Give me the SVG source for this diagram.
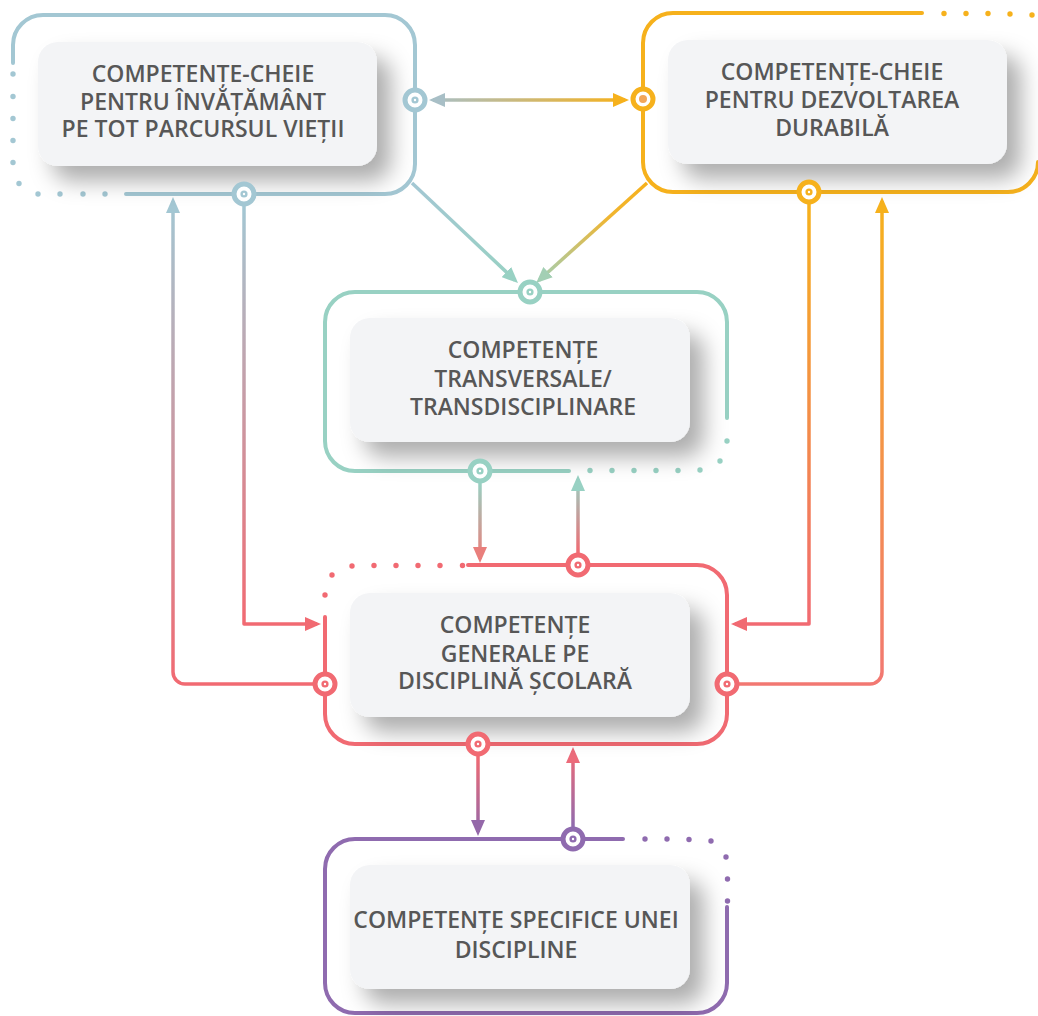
<svg xmlns="http://www.w3.org/2000/svg" width="1038" height="1016" viewBox="0 0 1038 1016">
<style>
.frame{fill:none;stroke-width:4;stroke-linecap:round;stroke-linejoin:round}
.card{fill:#f3f4f6}
.lbl{font-family:"Open Sans","Liberation Sans",sans-serif;font-weight:600;font-size:23px;fill:#575757;text-anchor:middle}
.conn{fill:none;stroke-width:3.5;stroke-linejoin:round}
.ring{fill:#fff;stroke-width:5}
.blue{stroke:#a3c7d3}.blue-f{fill:#a3c7d3}
.orange{stroke:#f6b11c}.orange-f{fill:#f6b11c}
.teal{stroke:#98d1c3}.teal-f{fill:#98d1c3}
.red{stroke:#f16a72}.red-f{fill:#f16a72}
.purple{stroke:#8f6baf}.purple-f{fill:#8f6baf}
</style>
<defs>
<filter id="sh" x="-20%" y="-30%" width="150%" height="180%">
<feDropShadow dx="14" dy="15" stdDeviation="11" flood-color="#000" flood-opacity="0.32"/>
</filter>
<marker id="aBlue" viewBox="0 0 16 14" refX="12" refY="7" markerWidth="16" markerHeight="14" markerUnits="userSpaceOnUse" orient="auto-start-reverse"><path d="M0,0 L16,7 L0,14 z" fill="#a8bfc6"/></marker>
<marker id="aOrange" viewBox="0 0 16 14" refX="12" refY="7" markerWidth="16" markerHeight="14" markerUnits="userSpaceOnUse" orient="auto-start-reverse"><path d="M0,0 L16,7 L0,14 z" fill="#f6b11c"/></marker>
<marker id="aTeal" viewBox="0 0 16 14" refX="12" refY="7" markerWidth="16" markerHeight="14" markerUnits="userSpaceOnUse" orient="auto"><path d="M0,0 L16,7 L0,14 z" fill="#98d1c3"/></marker>
<marker id="aTealG" viewBox="0 0 16 14" refX="12" refY="7" markerWidth="16" markerHeight="14" markerUnits="userSpaceOnUse" orient="auto"><path d="M0,0 L16,7 L0,14 z" fill="#a3cfb4"/></marker>
<marker id="aRed" viewBox="0 0 16 14" refX="12" refY="7" markerWidth="16" markerHeight="14" markerUnits="userSpaceOnUse" orient="auto"><path d="M0,0 L16,7 L0,14 z" fill="#f16a72"/></marker>
<marker id="aSalmon" viewBox="0 0 16 14" refX="12" refY="7" markerWidth="16" markerHeight="14" markerUnits="userSpaceOnUse" orient="auto"><path d="M0,0 L16,7 L0,14 z" fill="#e97f7c"/></marker>
<marker id="aPink" viewBox="0 0 16 14" refX="12" refY="7" markerWidth="16" markerHeight="14" markerUnits="userSpaceOnUse" orient="auto"><path d="M0,0 L16,7 L0,14 z" fill="#ec6b7a"/></marker>
<marker id="aPurple" viewBox="0 0 16 14" refX="12" refY="7" markerWidth="16" markerHeight="14" markerUnits="userSpaceOnUse" orient="auto"><path d="M0,0 L16,7 L0,14 z" fill="#9468a9"/></marker>
<marker id="aBlueUp" viewBox="0 0 16 14" refX="12" refY="7" markerWidth="16" markerHeight="14" markerUnits="userSpaceOnUse" orient="auto"><path d="M0,0 L16,7 L0,14 z" fill="#a3c7d3"/></marker>
<linearGradient id="gTop" gradientUnits="userSpaceOnUse" x1="433" y1="0" x2="625" y2="0"><stop offset="0" stop-color="#a8bfc6"/><stop offset="1" stop-color="#f6b11c"/></linearGradient>
<linearGradient id="gDiagL" gradientUnits="userSpaceOnUse" x1="412" y1="183" x2="515" y2="280"><stop offset="0" stop-color="#a3c7d3"/><stop offset="1" stop-color="#98d1c3"/></linearGradient>
<linearGradient id="gDiagR" gradientUnits="userSpaceOnUse" x1="647" y1="183" x2="539" y2="280"><stop offset="0" stop-color="#f6b11c"/><stop offset="0.35" stop-color="#f0b530"/><stop offset="1" stop-color="#a3cfb4"/></linearGradient>
<linearGradient id="gL1" gradientUnits="userSpaceOnUse" x1="0" y1="206" x2="0" y2="624"><stop offset="0" stop-color="#a3c7d3"/><stop offset="1" stop-color="#f16a72"/></linearGradient>
<linearGradient id="gL2" gradientUnits="userSpaceOnUse" x1="0" y1="684" x2="0" y2="201"><stop offset="0" stop-color="#f16a72"/><stop offset="1" stop-color="#a3c7d3"/></linearGradient>
<linearGradient id="gR1" gradientUnits="userSpaceOnUse" x1="0" y1="204" x2="0" y2="624"><stop offset="0" stop-color="#f6b11c"/><stop offset="1" stop-color="#f16a72"/></linearGradient>
<linearGradient id="gR2" gradientUnits="userSpaceOnUse" x1="0" y1="684" x2="0" y2="200"><stop offset="0" stop-color="#f27872"/><stop offset="1" stop-color="#f6b11c"/></linearGradient>
<linearGradient id="gM1" gradientUnits="userSpaceOnUse" x1="0" y1="483" x2="0" y2="559"><stop offset="0" stop-color="#98d1c3"/><stop offset="1" stop-color="#ec7d79"/></linearGradient>
<linearGradient id="gM2" gradientUnits="userSpaceOnUse" x1="0" y1="553" x2="0" y2="479"><stop offset="0" stop-color="#f16a72"/><stop offset="1" stop-color="#98d1c3"/></linearGradient>
<linearGradient id="gB1" gradientUnits="userSpaceOnUse" x1="0" y1="756" x2="0" y2="832"><stop offset="0" stop-color="#f16a72"/><stop offset="1" stop-color="#9468a9"/></linearGradient>
<linearGradient id="gB2" gradientUnits="userSpaceOnUse" x1="0" y1="827" x2="0" y2="751"><stop offset="0" stop-color="#8f6baf"/><stop offset="1" stop-color="#ef6a76"/></linearGradient>
</defs>
<rect width="1038" height="1016" fill="#fff"/>

<g id="connectors">
<path class="conn" stroke="url(#gTop)" d="M433 100 H625" marker-start="url(#aBlue)" marker-end="url(#aOrange)"/>
<path class="conn" stroke="url(#gDiagL)" d="M412 183 L515.1 280.3" marker-end="url(#aTeal)"/>
<path class="conn" stroke="url(#gDiagR)" d="M647 183 L539.1 280.2" marker-end="url(#aTealG)"/>
<path class="conn" stroke="url(#gL1)" d="M244 200 V624 H317" marker-end="url(#aRed)"/>
<path class="conn" stroke="url(#gL2)" d="M320 684 H185 A12 12 0 0 1 173 672 V201" marker-end="url(#aBlueUp)"/>
<path class="conn" stroke="url(#gR1)" d="M809 200 V624 H735" marker-end="url(#aRed)"/>
<path class="conn" stroke="url(#gR2)" d="M732 684 H870 A12 12 0 0 0 882 672 V201" marker-end="url(#aOrange)"/>
<path class="conn" stroke="url(#gM1)" d="M480 480 V559" marker-end="url(#aSalmon)"/>
<path class="conn" stroke="url(#gM2)" d="M578 556 V479" marker-end="url(#aTeal)"/>
<path class="conn" stroke="url(#gB1)" d="M478 752 V832" marker-end="url(#aPurple)"/>
<path class="conn" stroke="url(#gB2)" d="M573 830 V751" marker-end="url(#aPink)"/>
</g>

<g id="node-lifelong">
<path class="frame blue" d="M126 194 H385 A30 30 0 0 0 415 164 V45 A30 30 0 0 0 385 15 H43 A30 30 0 0 0 13 45 V63"/>
<g class="blue-f">
<circle cx="13" cy="74" r="2.7"/><circle cx="13" cy="96.5" r="2.7"/><circle cx="13" cy="118.5" r="2.7"/><circle cx="13" cy="140.5" r="2.7"/><circle cx="13" cy="162.5" r="2.7"/><circle cx="19" cy="183.5" r="2.7"/><circle cx="38" cy="194" r="2.7"/><circle cx="60" cy="194" r="2.7"/><circle cx="83" cy="194" r="2.7"/><circle cx="105" cy="194" r="2.7"/>
</g>
<rect class="card" x="38" y="42" width="339" height="124" rx="20" filter="url(#sh)"/>
<text class="lbl" x="203" y="82">COMPETENȚE-CHEIE<tspan x="203" dy="28">PENTRU ÎNVĂȚĂMÂNT</tspan><tspan x="203" dy="27">PE TOT PARCURSUL VIEȚII</tspan></text>
<circle class="ring blue" cx="415" cy="100" r="10"/><circle class="blue-f" cx="415" cy="100" r="3.6"/><circle fill="#fff" cx="415" cy="100" r="1.2"/>
<circle class="ring blue" cx="244" cy="194" r="10"/><circle class="blue-f" cx="244" cy="194" r="3.6"/><circle fill="#fff" cx="244" cy="194" r="1.2"/>
</g>

<g id="node-sustainable">
<path class="frame orange" d="M922 13 H673 A30 30 0 0 0 643 43 V162 A30 30 0 0 0 673 192 H1008 A30 30 0 0 0 1038 162"/>
<g class="orange-f">
<circle cx="944" cy="13.5" r="2.7"/><circle cx="966" cy="13.5" r="2.7"/><circle cx="988" cy="13.5" r="2.7"/><circle cx="1010" cy="14" r="2.7"/><circle cx="1032" cy="15" r="2.7"/>
</g>
<rect class="card" x="668" y="40" width="339" height="124" rx="20" filter="url(#sh)"/>
<text class="lbl" x="832" y="80">COMPETENȚE-CHEIE<tspan x="832" dy="28">PENTRU DEZVOLTAREA</tspan><tspan x="832" dy="28">DURABILĂ</tspan></text>
<circle class="ring orange" cx="643" cy="99" r="10"/><circle fill="#f2a65a" cx="643" cy="99" r="4"/>
<circle class="ring orange" cx="809" cy="192" r="10"/><circle class="orange-f" cx="809" cy="192" r="3.6"/><circle fill="#fff" cx="809" cy="192" r="1.2"/>
</g>

<g id="node-transversal">
<path class="frame teal" d="M569 471 H355 A30 30 0 0 1 325 441 V322 A30 30 0 0 1 355 292 H697 A30 30 0 0 1 727 322 V418"/>
<g class="teal-f">
<circle cx="727" cy="441" r="2.7"/><circle cx="720" cy="461" r="2.7"/><circle cx="700" cy="470" r="2.7"/><circle cx="678" cy="470.5" r="2.7"/><circle cx="656" cy="470.5" r="2.7"/><circle cx="634" cy="470.5" r="2.7"/><circle cx="612" cy="470.5" r="2.7"/><circle cx="590" cy="470.5" r="2.7"/>
</g>
<rect class="card" x="350" y="318" width="340" height="124" rx="20" filter="url(#sh)"/>
<text class="lbl" x="523" y="358">COMPETENȚE<tspan x="523" dy="29">TRANSVERSALE/</tspan><tspan x="523" dy="28">TRANSDISCIPLINARE</tspan></text>
<circle class="ring teal" cx="530" cy="292" r="10"/><circle class="teal-f" cx="530" cy="292" r="3.6"/><circle fill="#fff" cx="530" cy="292" r="1.2"/>
<circle class="ring teal" cx="480" cy="471" r="10"/><circle class="teal-f" cx="480" cy="471" r="3.6"/><circle fill="#fff" cx="480" cy="471" r="1.2"/>
</g>

<g id="node-general">
<path class="frame red" d="M468 565 H697 A30 30 0 0 1 727 595 V714 A30 30 0 0 1 697 744 H355 A30 30 0 0 1 325 714 V617"/>
<g class="red-f">
<circle cx="462.5" cy="565.5" r="2.7"/><circle cx="440" cy="565.5" r="2.7"/><circle cx="418" cy="565.5" r="2.7"/><circle cx="396" cy="565.5" r="2.7"/><circle cx="374" cy="565.5" r="2.7"/><circle cx="352" cy="566" r="2.7"/><circle cx="332" cy="575" r="2.7"/><circle cx="325" cy="595" r="2.7"/>
</g>
<rect class="card" x="350" y="593" width="340" height="124" rx="20" filter="url(#sh)"/>
<text class="lbl" x="515" y="633">COMPETENȚE<tspan x="515" dy="29">GENERALE PE</tspan><tspan x="515" dy="27">DISCIPLINĂ ȘCOLARĂ</tspan></text>
<circle class="ring red" cx="578" cy="565" r="10"/><circle class="red-f" cx="578" cy="565" r="3.6"/><circle fill="#fff" cx="578" cy="565" r="1.2"/>
<circle class="ring red" cx="478" cy="744" r="10"/><circle class="red-f" cx="478" cy="744" r="3.6"/><circle fill="#fff" cx="478" cy="744" r="1.2"/>
<circle class="ring red" cx="325" cy="684" r="10"/><circle class="red-f" cx="325" cy="684" r="3.6"/><circle fill="#fff" cx="325" cy="684" r="1.2"/>
<circle class="ring red" cx="727" cy="684" r="10"/><circle class="red-f" cx="727" cy="684" r="3.6"/><circle fill="#fff" cx="727" cy="684" r="1.2"/>
</g>

<g id="node-specific">
<path class="frame purple" d="M623 839 H355 A30 30 0 0 0 325 869 V983 A30 30 0 0 0 355 1013 H697 A30 30 0 0 0 727 983 V907"/>
<g class="purple-f">
<circle cx="645" cy="839" r="2.7"/><circle cx="667" cy="839" r="2.7"/><circle cx="689" cy="839.5" r="2.7"/><circle cx="711" cy="841" r="2.7"/><circle cx="726" cy="857" r="2.7"/><circle cx="727.5" cy="879" r="2.7"/><circle cx="727.5" cy="901" r="2.7"/>
</g>
<rect class="card" x="350" y="865" width="340" height="124" rx="20" filter="url(#sh)"/>
<text class="lbl" x="516" y="928">COMPETENȚE SPECIFICE UNEI<tspan x="516" dy="30">DISCIPLINE</tspan></text>
<circle class="ring purple" cx="573" cy="839" r="10"/><circle class="purple-f" cx="573" cy="839" r="3.6"/><circle fill="#fff" cx="573" cy="839" r="1.2"/>
</g>
</svg>
